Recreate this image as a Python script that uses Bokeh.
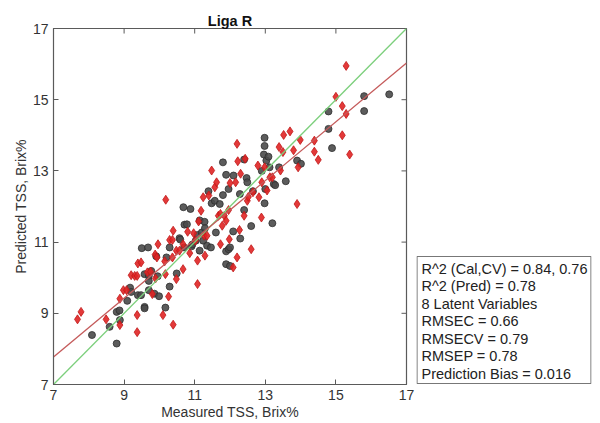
from bokeh.plotting import figure
from bokeh.models import FixedTicker, Range1d
from bokeh.layouts import row
from bokeh.core.properties import value
from bokeh.embed import file_html
from bokeh.resources import INLINE

title_text = "Liga R"
x_label = "Measured TSS, Brix%"
y_label = "Predicted TSS, Brix%"
tick_values = [7, 9, 11, 13, 15, 17]
axis_min, axis_max = 7, 17

# Calibration samples (gray circles)
cal_x = [8.09, 8.59, 8.79, 8.79, 8.87, 8.88, 9.09, 9.17, 9.2, 9.39, 9.48, 9.5, 9.68, 9.58, 9.58,
         9.58, 9.7, 9.7, 9.7, 9.77, 9.86, 9.95, 9.99, 9.91, 10.17, 10.2, 10.29, 10.29, 10.49, 10.57,
         10.59, 10.68, 10.7, 10.71, 10.78, 10.88, 10.91, 10.93, 11.03, 11.08, 11.14, 11.14, 11.2, 11.24,
         11.28, 11.29, 11.35, 11.39, 11.46, 11.48, 11.57, 11.6, 11.71, 11.8, 11.8, 11.89, 11.89, 11.89,
         11.96, 11.96, 12.0, 12.0, 12.09, 12.1, 12.28, 12.29, 12.4, 12.4, 12.47, 12.49, 12.6, 12.65,
         12.9, 12.96, 12.98, 12.98, 12.98, 13.0, 13.03, 13.09, 13.12, 13.2, 13.24, 13.28, 13.39, 13.58,
         13.9, 14.01, 14.79, 14.79, 14.89, 15.8, 15.8, 16.51]
cal_y = [8.39, 8.62, 8.15, 9.04, 9.08, 8.81, 9.35, 9.72, 9.6, 9.51, 9.51, 10.83, 10.85, 9.18, 9.14,
         10.1, 10.05, 9.91, 9.65, 10.19, 9.55, 10.04, 9.48, 10.6, 9.16, 10.57, 9.75, 10.85, 10.12, 11.11,
         11.07, 11.98, 10.85, 11.49, 11.5, 11.93, 10.88, 10.93, 11.04, 11.2, 11.61, 10.76, 11.27, 11.04,
         11.57, 11.39, 10.9, 12.43, 10.85, 12.09, 12.16, 11.27, 12.07, 12.32, 13.24, 12.89, 10.74, 10.38,
         12.49, 10.8, 10.85, 10.33, 11.3, 12.87, 12.35, 11.1, 13.32, 11.9, 12.8, 12.68, 11.45, 12.43,
         13.0, 13.46, 13.93, 13.7, 12.09, 12.49, 13.29, 13.4, 13.1, 11.53, 12.63, 12.6, 13.1, 12.71,
         13.29, 13.2, 14.18, 14.67, 13.64, 15.1, 14.68, 15.15]

# Prediction samples (red diamonds)
pred_x = [7.68, 7.78, 8.49, 8.88, 8.88, 8.98, 9.07, 9.2, 9.3, 9.37, 9.37, 9.37, 9.39, 9.48, 9.66,
          9.75, 9.8, 9.88, 9.93, 9.96, 9.89, 10.1, 10.15, 10.17, 10.18, 10.26, 10.29, 10.37, 10.39, 10.37,
          10.39, 10.48, 10.48, 10.57, 10.67, 10.67, 10.8, 10.86, 10.97, 11.02, 11.08, 11.08, 11.11, 11.18,
          11.24, 11.27, 11.29, 11.35, 11.4, 11.48, 11.57, 11.62, 11.67, 11.73, 11.73, 11.78, 11.84, 11.89,
          11.96, 11.98, 12.0, 12.09, 12.16, 12.2, 12.2, 12.22, 12.27, 12.3, 12.4, 12.43, 12.49, 12.52,
          12.6, 12.65, 12.79, 12.82, 12.89, 12.9, 12.98, 13.05, 13.13, 13.2, 13.39, 13.43, 13.5, 13.52,
          13.7, 13.8, 13.9, 13.93, 13.99, 14.39, 14.39, 14.5, 15.0, 15.18, 15.18, 15.29, 15.29, 15.39]
pred_y = [8.83, 9.04, 8.83, 8.67, 9.41, 9.65, 9.65, 10.07, 10.05, 10.05, 8.95, 8.47, 10.4, 10.43, 10.15,
          10.17, 9.54, 10.65, 10.57, 10.94, 9.98, 8.95, 10.46, 10.1, 12.19, 9.47, 11.06, 11.06, 8.68, 10.57,
          11.32, 10.76, 9.96, 10.76, 10.24, 10.94, 11.29, 10.69, 11.25, 11.04, 10.48, 9.82, 11.58, 11.88,
          12.26, 11.18, 10.62, 11.18, 12.31, 13.01, 12.54, 12.68, 11.74, 10.94, 11.79, 11.46, 11.74, 11.6,
          11.9, 11.08, 12.66, 10.29, 12.68, 13.76, 10.57, 13.27, 11.34, 12.92, 11.74, 13.34, 12.16, 12.27,
          10.8, 12.4, 13.15, 12.26, 11.69, 12.68, 13.1, 12.45, 12.82, 12.82, 13.67, 13.01, 13.53, 14.01,
          14.11, 13.58, 12.07, 13.1, 13.87, 13.85, 13.54, 13.31, 15.08, 14.82, 14.0, 14.6, 15.95, 13.46]

# Lines: 1:1 line and regression fit
line_x = [7, 17]
fit_slope = 0.826
fit_intercept = 1.99

stats_lines = [
    "R^2 (Cal,CV) = 0.84, 0.76",
    "R^2 (Pred) = 0.78",
    "8 Latent Variables",
    "RMSEC = 0.66",
    "RMSECV = 0.79",
    "RMSEP = 0.78",
    "Prediction Bias = 0.016",
]

FONT = "Liberation Sans"
AX_COLOR = "#5a5a5a"
TXT_COLOR = "#333333"

ideal_y = list(line_x)
fit_y = [fit_slope * v + fit_intercept for v in line_x]

FIG_H = 423
TOP, BOTTOM = 28, 39

p = figure(width=416, height=FIG_H,
           x_range=Range1d(axis_min, axis_max), y_range=Range1d(axis_min, axis_max),
           output_backend="svg", toolbar_location=None,
           min_border_left=53, min_border_right=10, min_border_top=TOP, min_border_bottom=BOTTOM)
p.xgrid.visible = False
p.ygrid.visible = False
p.outline_line_color = AX_COLOR
p.outline_line_width = 1.2

p.title.text = title_text
p.title.align = "center"
p.title.text_font = FONT
p.title.text_font_size = "14.5px"
p.title.text_font_style = "bold"
p.title.text_color = "#111111"
p.title.standoff = 0
p.title.offset = 0

for ax in (p.xaxis[0], p.yaxis[0]):
    ax.ticker = FixedTicker(ticks=tick_values)
    ax.major_tick_in = 5
    ax.major_tick_out = 0
    ax.minor_tick_line_color = None
    ax.axis_line_color = AX_COLOR
    ax.major_tick_line_color = AX_COLOR
    ax.major_label_text_font = FONT
    ax.major_label_text_color = TXT_COLOR
    ax.major_label_text_font_size = "14px"
    ax.axis_label_text_font = FONT
    ax.axis_label_text_color = TXT_COLOR
    ax.axis_label_text_font_style = "normal"
    ax.axis_label_text_font_size = "14px"

p.xaxis[0].axis_label = x_label
p.yaxis[0].axis_label = y_label
p.xaxis[0].major_label_standoff = 5
p.xaxis[0].axis_label_standoff = 1
p.yaxis[0].major_label_standoff = 5
p.yaxis[0].axis_label_standoff = 1

# inward ticks on the top and right edges of the box
tick_len = 5 * (axis_max - axis_min) / 353
p.segment(x0=tick_values, y0=[axis_max] * len(tick_values), x1=tick_values,
          y1=[axis_max - tick_len] * len(tick_values), line_color=AX_COLOR, line_width=1)
p.segment(x0=[axis_max] * len(tick_values), y0=tick_values, x1=[axis_max - tick_len] * len(tick_values),
          y1=tick_values, line_color=AX_COLOR, line_width=1)

p.scatter(cal_x, cal_y, marker="circle", size=7, fill_color="#4a4a4a", fill_alpha=0.9,
          line_color="#2e2e2e", line_width=0.8)
p.scatter(pred_x, pred_y, marker="diamond", size=9, fill_color="#e02424", fill_alpha=0.9,
          line_color="#c01818", line_width=0.8)

p.line(line_x, ideal_y, line_color="#7ccf7c", line_width=1.3)
p.line(line_x, fit_y, line_color="#c45a5a", line_width=1.3)

# statistics box as a separate panel to the right (pixel coordinates, origin at frame bottom-left)
frame_h = FIG_H - TOP - BOTTOM
box_w, box_h = 175, 127
s = figure(width=184, height=FIG_H, x_range=Range1d(0, box_w), y_range=Range1d(0, frame_h),
           x_axis_type=None, y_axis_type=None, output_backend="svg", toolbar_location=None,
           min_border_left=0, min_border_right=9, min_border_top=TOP, min_border_bottom=BOTTOM)
s.outline_line_color = None
s.xgrid.visible = False
s.ygrid.visible = False
s.quad(left=[0.5], right=[box_w - 0.5], bottom=[1], top=[1 + box_h],
       fill_color="white", line_color="#777777", line_width=1.2)
line_step = 17.5
s.text(x=[5] * len(stats_lines), y=[1 + box_h - 12 - line_step * i for i in range(len(stats_lines))],
       text=stats_lines, text_font=value(FONT), text_font_size="14.5px", text_color="#222222",
       text_baseline="middle", text_align="left")

layout = row(p, s, spacing=0)
open("out.html", "w").write(file_html(layout, INLINE))
